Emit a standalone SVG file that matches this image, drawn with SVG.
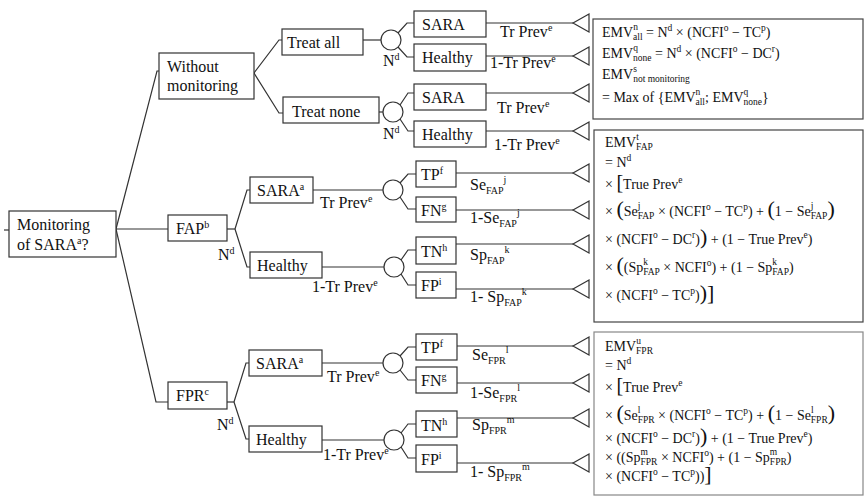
<svg xmlns="http://www.w3.org/2000/svg" width="866" height="496" viewBox="0 0 866 496">
<style>
.box{fill:#fff;stroke:#333;stroke-width:1.2}
.fbox{fill:#fff;stroke:#444;stroke-width:1.2}
.fbox3{fill:#fff;stroke:#888;stroke-width:1.2}
.ln{fill:none;stroke:#333;stroke-width:1.2}
.chance{fill:#fff;stroke:#333;stroke-width:1.2}
.term{fill:#fff;stroke:#333;stroke-width:1.2}
.t{font-family:"Liberation Serif","Times New Roman",serif;font-size:16px;fill:#111}
.sp{font-size:10px}
.sb{font-size:10px}
.f{font-family:"Liberation Serif","Times New Roman",serif;font-size:14px;fill:#111}
.fs{font-size:9.5px}
.big{font-size:22px}
.brk{font-size:20px}
</style>
<defs>
<polygon id="tri" class="term" points="0,0 16,-9 16,9"/>
</defs>
<rect width="866" height="496" fill="#fff"/>

<g id="connectors">
<path class="ln" d="M4 230H9"/>
<path class="ln" d="M116 229L157 71H159"/>
<path class="ln" d="M116 229H168"/>
<path class="ln" d="M116 229L156 402H168"/>
<path class="ln" d="M254 73L279 40H282"/>
<path class="ln" d="M254 73L279 113H283"/>
<path class="ln" d="M363 40H381"/>
<path class="ln" d="M398 33L407 23H414"/>
<path class="ln" d="M398 47L407 57H414"/>
<path class="ln" d="M486 23H573"/>
<path class="ln" d="M486 56H573"/>
<path class="ln" d="M379 112H383"/>
<path class="ln" d="M400 105L408 93H414"/>
<path class="ln" d="M400 119L408 131H414"/>
<path class="ln" d="M486 93H573"/>
<path class="ln" d="M486 131H573"/>
<path class="ln" d="M227 229H235"/>
<path class="ln" d="M235 229L247 190H250"/>
<path class="ln" d="M235 229L247 267H250"/>
<path class="ln" d="M313 190H383"/>
<path class="ln" d="M400 183L408 174H416"/>
<path class="ln" d="M400 197L408 209H416"/>
<path class="ln" d="M456 173H573"/>
<path class="ln" d="M456 210H573"/>
<path class="ln" d="M322 267H384"/>
<path class="ln" d="M401 260L408 250H416"/>
<path class="ln" d="M401 274L408 285H416"/>
<path class="ln" d="M456 244H573"/>
<path class="ln" d="M456 289H573"/>
<path class="ln" d="M227 402H234"/>
<path class="ln" d="M234 402L246 363H249"/>
<path class="ln" d="M234 402L246 439H249"/>
<path class="ln" d="M322 363H383"/>
<path class="ln" d="M400 356L408 347H416"/>
<path class="ln" d="M400 370L408 380H416"/>
<path class="ln" d="M457 346H573"/>
<path class="ln" d="M457 383H573"/>
<path class="ln" d="M322 440H384"/>
<path class="ln" d="M401 433L408 424H416"/>
<path class="ln" d="M401 447L408 458H416"/>
<path class="ln" d="M457 418H573"/>
<path class="ln" d="M457 463H573"/>
</g>

<g id="edge-labels" class="t">
<text x="500" y="37">Tr Prev<tspan class="sp" dy="-6">e</tspan></text>
<text x="490" y="68">1-Tr Prev<tspan class="sp" dy="-6">e</tspan></text>
<text x="383" y="66">N<tspan class="sp" dy="-6">d</tspan></text>
<text x="497" y="113">Tr Prev<tspan class="sp" dy="-6">e</tspan></text>
<text x="494" y="150">1-Tr Prev<tspan class="sp" dy="-6">e</tspan></text>
<text x="383" y="139">N<tspan class="sp" dy="-6">d</tspan></text>
<text x="218" y="260">N<tspan class="sp" dy="-6">d</tspan></text>
<text x="320" y="208">Tr Prev<tspan class="sp" dy="-6">e</tspan></text>
<text x="312" y="292">1-Tr Prev<tspan class="sp" dy="-6">e</tspan></text>
<text x="470" y="190">Se<tspan class="sb" dy="4">FAP</tspan><tspan class="sp" dy="-11">j</tspan></text>
<text x="470" y="223">1-Se<tspan class="sb" dy="4">FAP</tspan><tspan class="sp" dy="-11">j</tspan></text>
<text x="470" y="260">Sp<tspan class="sb" dy="4">FAP</tspan><tspan class="sp" dy="-11">k</tspan></text>
<text x="470" y="302">1- Sp<tspan class="sb" dy="4">FAP</tspan><tspan class="sp" dy="-11">k</tspan></text>
<text x="217" y="430">N<tspan class="sp" dy="-6">d</tspan></text>
<text x="327" y="382">Tr Prev<tspan class="sp" dy="-6">e</tspan></text>
<text x="323" y="460">1-Tr Prev<tspan class="sp" dy="-6">e</tspan></text>
<text x="472" y="360">Se<tspan class="sb" dy="4">FPR</tspan><tspan class="sp" dy="-11">l</tspan></text>
<text x="470" y="398">1-Se<tspan class="sb" dy="4">FPR</tspan><tspan class="sp" dy="-11">l</tspan></text>
<text x="472" y="430">Sp<tspan class="sb" dy="4">FPR</tspan><tspan class="sp" dy="-11">m</tspan></text>
<text x="470" y="477">1- Sp<tspan class="sb" dy="4">FPR</tspan><tspan class="sp" dy="-11">m</tspan></text>
</g>

<g id="n-root"><rect class="box" x="9" y="211" width="107" height="46"/>
<text class="t" x="17" y="230">Monitoring</text>
<text class="t" x="17" y="250">of SARA<tspan class="sp" dy="-6">a</tspan><tspan dy="6">?</tspan></text></g>

<g id="n-without"><rect class="box" x="159" y="53" width="95" height="46"/>
<text class="t" x="167" y="72">Without</text>
<text class="t" x="167" y="91">monitoring</text></g>

<g id="n-treatall"><rect class="box" x="282" y="29" width="81" height="26"/>
<text class="t" x="287" y="48">Treat all</text></g>
<g id="c-treatall"><circle class="chance" cx="391" cy="40" r="10"/></g>
<g id="n-sara1"><rect class="box" x="414" y="11" width="72" height="26"/><text class="t" x="422" y="30">SARA</text></g>
<g id="n-healthy1"><rect class="box" x="414" y="44" width="72" height="27"/><text class="t" x="422" y="63">Healthy</text></g>

<g id="n-treatnone"><rect class="box" x="283" y="97" width="96" height="26"/>
<text class="t" x="292" y="117">Treat none</text></g>
<g id="c-treatnone"><circle class="chance" cx="393" cy="112" r="10"/></g>
<g id="n-sara2"><rect class="box" x="414" y="84" width="72" height="26"/><text class="t" x="422" y="103">SARA</text></g>
<g id="n-healthy2"><rect class="box" x="414" y="121" width="72" height="26"/><text class="t" x="422" y="140">Healthy</text></g>

<g id="n-fap"><rect class="box" x="168" y="215" width="59" height="26"/>
<text class="t" x="176" y="234">FAP<tspan class="sp" dy="-6">b</tspan></text></g>
<g id="n-fap-sara"><rect class="box" x="250" y="177" width="63" height="26"/>
<text class="t" x="257" y="196">SARA<tspan class="sp" dy="-6">a</tspan></text></g>
<g id="c-fap-sara"><circle class="chance" cx="393" cy="190" r="10"/></g>
<g id="n-fap-tp"><rect class="box" x="416" y="161" width="40" height="26"/><text class="t" x="421" y="180">TP<tspan class="sp" dy="-6">f</tspan></text></g>
<g id="n-fap-fn"><rect class="box" x="416" y="197" width="40" height="25"/><text class="t" x="421" y="216">FN<tspan class="sp" dy="-6">g</tspan></text></g>
<g id="n-fap-healthy"><rect class="box" x="250" y="252" width="72" height="26"/>
<text class="t" x="257" y="271">Healthy</text></g>
<g id="c-fap-healthy"><circle class="chance" cx="394" cy="267" r="10"/></g>
<g id="n-fap-tn"><rect class="box" x="416" y="237" width="40" height="27"/><text class="t" x="421" y="257">TN<tspan class="sp" dy="-6">h</tspan></text></g>
<g id="n-fap-fp"><rect class="box" x="416" y="272" width="40" height="26"/><text class="t" x="421" y="291">FP<tspan class="sp" dy="-6">i</tspan></text></g>

<g id="n-fpr"><rect class="box" x="168" y="382" width="59" height="27"/>
<text class="t" x="176" y="401">FPR<tspan class="sp" dy="-6">c</tspan></text></g>
<g id="n-fpr-sara"><rect class="box" x="249" y="350" width="73" height="26"/>
<text class="t" x="256" y="369">SARA<tspan class="sp" dy="-6">a</tspan></text></g>
<g id="c-fpr-sara"><circle class="chance" cx="393" cy="363" r="10"/></g>
<g id="n-fpr-tp"><rect class="box" x="416" y="334" width="41" height="26"/><text class="t" x="421" y="353">TP<tspan class="sp" dy="-6">f</tspan></text></g>
<g id="n-fpr-fn"><rect class="box" x="416" y="367" width="41" height="26"/><text class="t" x="421" y="386">FN<tspan class="sp" dy="-6">g</tspan></text></g>
<g id="n-fpr-healthy"><rect class="box" x="249" y="426" width="73" height="26"/>
<text class="t" x="256" y="445">Healthy</text></g>
<g id="c-fpr-healthy"><circle class="chance" cx="394" cy="440" r="10"/></g>
<g id="n-fpr-tn"><rect class="box" x="416" y="411" width="41" height="26"/><text class="t" x="421" y="431">TN<tspan class="sp" dy="-6">h</tspan></text></g>
<g id="n-fpr-fp"><rect class="box" x="416" y="445" width="41" height="27"/><text class="t" x="421" y="465">FP<tspan class="sp" dy="-6">i</tspan></text></g>

<g id="terminals">
<use href="#tri" x="573" y="23"/>
<use href="#tri" x="573" y="56"/>
<use href="#tri" x="573" y="93"/>
<use href="#tri" x="573" y="131"/>
<use href="#tri" x="573" y="173"/>
<use href="#tri" x="573" y="210"/>
<use href="#tri" x="573" y="244"/>
<use href="#tri" x="573" y="289"/>
<use href="#tri" x="573" y="346"/>
<use href="#tri" x="573" y="383"/>
<use href="#tri" x="573" y="418"/>
<use href="#tri" x="573" y="463"/>
</g>

<g id="f-without">
<rect class="fbox" x="593" y="19" width="270" height="100"/>
<text class="f" x="602" y="37">EMV<tspan class="fs" dy="-7">n</tspan><tspan class="fs" dx="-4.8" dy="10">all</tspan><tspan dy="-3"> = N</tspan><tspan class="fs" dy="-6">d</tspan><tspan dy="6"> × (NCFI</tspan><tspan class="fs" dy="-6">o</tspan><tspan dy="6"> − TC</tspan><tspan class="fs" dy="-6">p</tspan><tspan dy="6">)</tspan></text>
<text class="f" x="602" y="58">EMV<tspan class="fs" dy="-7">q</tspan><tspan class="fs" dx="-4.8" dy="10">none</tspan><tspan dy="-3"> =  N</tspan><tspan class="fs" dy="-6">d</tspan><tspan dy="6"> × (NCFI</tspan><tspan class="fs" dy="-6">o</tspan><tspan dy="6"> − DC</tspan><tspan class="fs" dy="-6">r</tspan><tspan dy="6">)</tspan></text>
<text class="f" x="602" y="79">EMV<tspan class="fs" dy="-7">s</tspan><tspan class="fs" dx="-3.7" dy="10">not monitoring</tspan></text>
<text class="f" x="602" y="102">= Max of {EMV<tspan class="fs" dy="-7">n</tspan><tspan class="fs" dx="-4.8" dy="10">all</tspan><tspan dy="-3">; EMV</tspan><tspan class="fs" dy="-7">q</tspan><tspan class="fs" dx="-4.8" dy="10">none</tspan><tspan dy="-3">}</tspan></text>
</g>

<g id="f-fap">
<rect class="fbox" x="594" y="130" width="269" height="192"/>
<text class="f" x="605" y="147">EMV<tspan class="fs" dy="-7">t</tspan><tspan class="fs" dx="-2.7" dy="10">FAP</tspan></text>
<text class="f" x="605" y="167">= N<tspan class="fs" dy="-6">d</tspan></text>
<text class="f" x="605" y="189">× <tspan class="brk">[</tspan>True Prev<tspan class="fs" dy="-6">e</tspan></text>
<text class="f" x="605" y="216">× <tspan class="big">(</tspan>Se<tspan class="fs" dy="-7">j</tspan><tspan class="fs" dx="-2.7" dy="10">FAP</tspan><tspan dy="-3"> × (NCFI</tspan><tspan class="fs" dy="-6">o</tspan><tspan dy="6"> − TC</tspan><tspan class="fs" dy="-6">p</tspan><tspan dy="6">) + </tspan><tspan class="big">(</tspan>1 − Se<tspan class="fs" dy="-7">j</tspan><tspan class="fs" dx="-2.7" dy="10">FAP</tspan><tspan class="big" dy="-3">)</tspan></text>
<text class="f" x="605" y="244">× (NCFI<tspan class="fs" dy="-6">o</tspan><tspan dy="6"> − DC</tspan><tspan class="fs" dy="-6">r</tspan><tspan dy="6">)</tspan><tspan class="big">)</tspan> + (1 − True Prev<tspan class="fs" dy="-6">e</tspan><tspan dy="6">)</tspan></text>
<text class="f" x="605" y="272">× <tspan class="big">(</tspan>(Sp<tspan class="fs" dy="-7">k</tspan><tspan class="fs" dx="-4.8" dy="10">FAP</tspan><tspan dy="-3"> × NCFI</tspan><tspan class="fs" dy="-6">o</tspan><tspan dy="6">) + (1 − Sp</tspan><tspan class="fs" dy="-7">k</tspan><tspan class="fs" dx="-4.8" dy="10">FAP</tspan><tspan dy="-3">)</tspan></text>
<text class="f" x="605" y="300">× (NCFI<tspan class="fs" dy="-6">o</tspan><tspan dy="6"> − TC</tspan><tspan class="fs" dy="-6">p</tspan><tspan dy="6">)</tspan><tspan class="big">)]</tspan></text>
</g>

<g id="f-fpr">
<rect class="fbox3" x="594" y="332" width="269" height="163"/>
<text class="f" x="605" y="351">EMV<tspan class="fs" dy="-7">u</tspan><tspan class="fs" dx="-4.8" dy="10">FPR</tspan></text>
<text class="f" x="605" y="370">= N<tspan class="fs" dy="-6">d</tspan></text>
<text class="f" x="605" y="392">× <tspan class="brk">[</tspan>True Prev<tspan class="fs" dy="-6">e</tspan></text>
<text class="f" x="605" y="420">× <tspan class="big">(</tspan>Se<tspan class="fs" dy="-7">l</tspan><tspan class="fs" dx="-2.7" dy="10">FPR</tspan><tspan dy="-3"> × (NCFI</tspan><tspan class="fs" dy="-6">o</tspan><tspan dy="6"> − TC</tspan><tspan class="fs" dy="-6">p</tspan><tspan dy="6">) + </tspan><tspan class="big">(</tspan>1 − Se<tspan class="fs" dy="-7">l</tspan><tspan class="fs" dx="-2.7" dy="10">FPR</tspan><tspan class="big" dy="-3">)</tspan></text>
<text class="f" x="605" y="443">× (NCFI<tspan class="fs" dy="-6">o</tspan><tspan dy="6"> − DC</tspan><tspan class="fs" dy="-6">r</tspan><tspan dy="6">)</tspan><tspan class="big">)</tspan> + (1 − True Prev<tspan class="fs" dy="-6">e</tspan><tspan dy="6">)</tspan></text>
<text class="f" x="605" y="462">× ((Sp<tspan class="fs" dy="-7">m</tspan><tspan class="fs" dx="-7.4" dy="10">FPR</tspan><tspan dy="-3"> × NCFI</tspan><tspan class="fs" dy="-6">o</tspan><tspan dy="6">) + (1 − Sp</tspan><tspan class="fs" dy="-7">m</tspan><tspan class="fs" dx="-7.4" dy="10">FPR</tspan><tspan dy="-3">)</tspan></text>
<text class="f" x="605" y="481">× (NCFI<tspan class="fs" dy="-6">o</tspan><tspan dy="6"> − TC</tspan><tspan class="fs" dy="-6">p</tspan><tspan dy="6">))</tspan><tspan class="big">]</tspan></text>
</g>
</svg>
